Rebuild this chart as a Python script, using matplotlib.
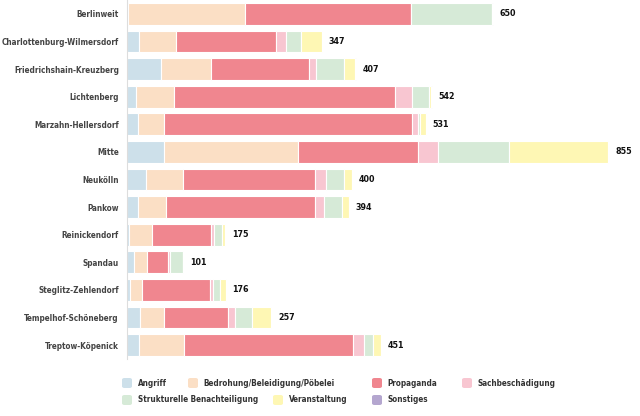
import os
import numpy as np
import matplotlib.pyplot as plt
from matplotlib import font_manager as fm
from matplotlib.patches import FancyBboxPatch

districts = ['Berlinweit', 'Charlottenburg-Wilmersdorf', 'Friedrichshain-Kreuzberg',
             'Lichtenberg', 'Marzahn-Hellersdorf', 'Mitte', 'Neukölln', 'Pankow',
             'Reinickendorf', 'Spandau', 'Steglitz-Zehlendorf', 'Tempelhof-Schöneberg',
             'Treptow-Köpenick']
categories = ['Angriff', 'Bedrohung/Beleidigung/Pöbelei', 'Propaganda', 'Sachbeschädigung',
              'Strukturelle Benachteiligung', 'Veranstaltung', 'Sonstiges']

angriff       = [3, 23, 61, 17, 20, 67, 35, 20, 5, 13, 7, 24, 22]
bedrohung     = [208, 64, 89, 68, 47, 238, 65, 50, 40, 24, 21, 42, 80]
propaganda    = [294, 178, 174, 392, 439, 212, 234, 264, 105, 36, 121, 114, 300]
sachbesch     = [0, 18, 12, 30, 12, 36, 20, 16, 5, 5, 5, 13, 19]
strukturell   = [144, 27, 49, 30, 3, 125, 32, 32, 15, 23, 12, 29, 16]
veranstaltung = [0, 37, 21, 4, 10, 176, 14, 12, 5, 0, 10, 35, 14]
sonstiges     = [1, 0, 1, 1, 0, 1, 0, 0, 0, 0, 0, 0, 0]

colors = ['#cde0ea', '#fbdfc5', '#f0868f', '#f8c6d1', '#d6ead7', '#fef7b4', '#b4a6cf']


def pick_font():
    '''Look for a narrow / condensed bold face, the original uses one.'''
    wanted = ['LiberationSansNarrow-Bold', 'DejaVuSansCondensed-Bold',
              'RobotoCondensed-Bold', 'OpenSans_Condensed-Bold', 'OpenSansCondensed-Bold']
    files = [f.fname for f in fm.fontManager.ttflist]
    for w in wanted:
        for f in files:
            if os.path.basename(f).startswith(w):
                return fm.FontProperties(fname=f)
    for f in files:
        b = os.path.basename(f)
        if ('Narrow' in b or 'Condensed' in b) and 'Bold' in b and 'Italic' not in b:
            return fm.FontProperties(fname=f)
    return fm.FontProperties(family='DejaVu Sans', weight='bold')


series = [angriff, bedrohung, propaganda, sachbesch, strukturell, veranstaltung, sonstiges]
totals = np.sum(series, axis=0)

fig = plt.figure(figsize=(6.4, 4.16), dpi=100)
renderer = fig.canvas.get_renderer()

# scale the font so the longest label is as wide as in the original (~115 px)
fp = pick_font()
fp.set_size(10)
t = fig.text(0, 0, 'Charlottenburg-Wilmersdorf', fontproperties=fp)
w = t.get_window_extent(renderer).width
t.remove()
base = 10 * 115 / w
fp.set_size(base)
fp_num = fp.copy()
fp_num.set_size(base * 1.1)

x0 = 126.5 / 640
ax = fig.add_axes([x0, 1 - 359 / 416, 1 - x0, 359 / 416])

y = np.arange(len(districts))
left = np.zeros(len(districts))
for vals, col in zip(series, colors):
    vals = np.array(vals, dtype=float)
    ax.barh(y, vals, left=left, height=0.79, color=col, edgecolor='white', linewidth=0.8)
    left += vals

for yi, tot in zip(y, totals):
    ax.text(tot + 12, yi, str(tot), va='center', ha='left', fontproperties=fp_num, color='#111111')

ax.set_xlim(0, 911)
ax.set_ylim(len(districts) - 0.5, -0.5)
for s in ['top', 'right', 'bottom']:
    ax.spines[s].set_visible(False)
ax.spines['left'].set_color('#dddddd')
ax.spines['left'].set_linewidth(0.8)
ax.set_xticks([])
ax.set_yticks(y)
ax.set_yticklabels(districts, fontproperties=fp, color='#444444')
ax.tick_params(axis='y', length=0, pad=5.4)

# legend, laid out by hand like the original
leg_pos = [(122, 383), (188, 383), (372, 383), (462, 383),
           (122, 400), (273, 400), (372, 400)]
for (px, py), name, col in zip(leg_pos, categories, colors):
    fx, fy = px / 640, 1 - (py + 5) / 416
    patch = FancyBboxPatch((fx, fy), 10 / 640, 10 / 416, transform=fig.transFigure,
                           boxstyle='round,pad=0,rounding_size=0.004',
                           facecolor=col, edgecolor='none')
    fig.patches.append(patch)
    fig.text((px + 15.5) / 640, 1 - py / 416, name, va='center', ha='left',
             fontproperties=fp, color='#333333')

fig.savefig('out.png', dpi=100)
